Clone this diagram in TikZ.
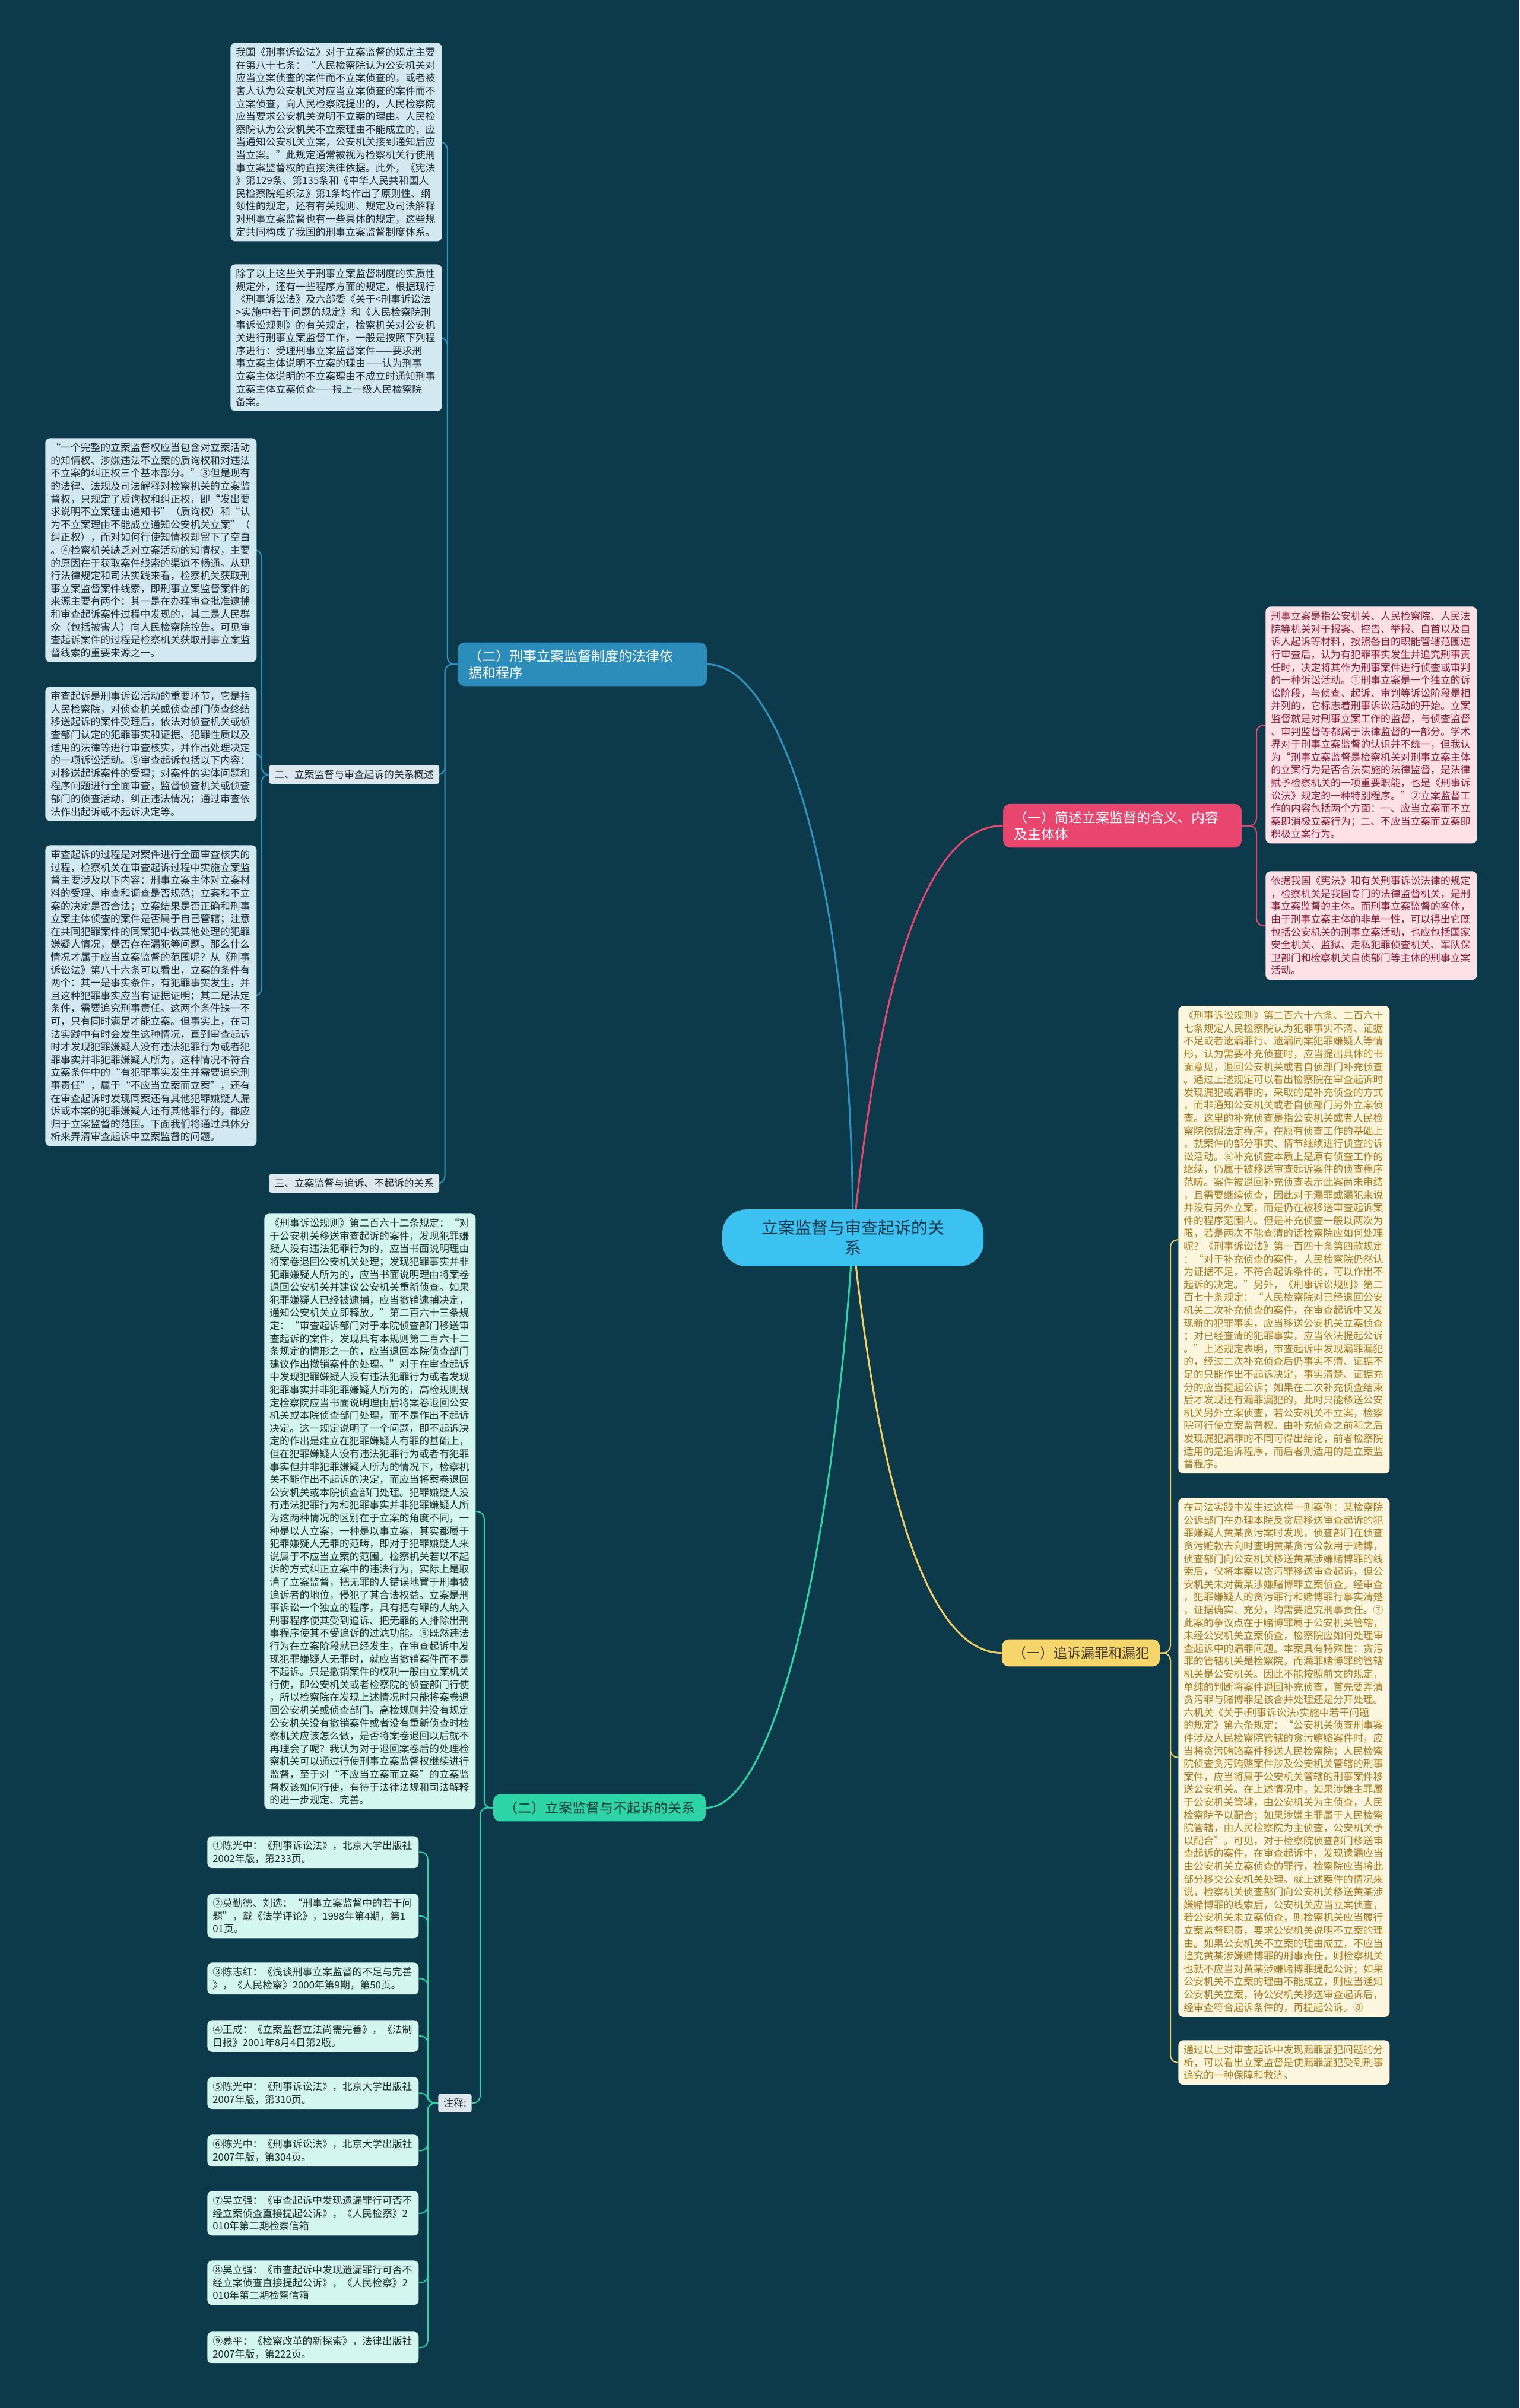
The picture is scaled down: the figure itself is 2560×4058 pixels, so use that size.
\documentclass[tikz,border=0pt]{standalone}
\usepackage{fontspec}
\setmainfont{Noto Sans CJK SC}
\usepackage{xcolor}
\usetikzlibrary{positioning}

\definecolor{bgcol}{HTML}{0D3A4A}
\definecolor{rootfill}{HTML}{3CC2F0}
\definecolor{roottext}{HTML}{12364A}
\definecolor{bluebr}{HTML}{2C8DBA}
\definecolor{bluefill}{HTML}{D3E9F1}
\definecolor{bluetext}{HTML}{1E2B33}
\definecolor{bluelinecol}{HTML}{2F93C0}
\definecolor{pinkbr}{HTML}{E8466F}
\definecolor{pinkfill}{HTML}{FDE1E7}
\definecolor{pinktext}{HTML}{8A1E3F}
\definecolor{yelbr}{HTML}{F6D56B}
\definecolor{yelbrtext}{HTML}{3A3322}
\definecolor{yelfill}{HTML}{FDF6DF}
\definecolor{yeltext}{HTML}{A47C1E}
\definecolor{yellinecol}{HTML}{F1CF62}
\definecolor{grnbr}{HTML}{2DD4A6}
\definecolor{grnbrtext}{HTML}{153A3A}
\definecolor{grnfill}{HTML}{D3F6EE}
\definecolor{grntext}{HTML}{1E2E2E}
\definecolor{lblfill}{HTML}{DCE8EE}

\pgfdeclarelayer{bgl}
\pgfdeclarelayer{lines}
\pgfsetlayers{bgl,lines,main}

\begin{document}
\begin{tikzpicture}[x=0.5pt, y=-0.5pt,
  txt/.style={anchor=north west, rounded corners=4pt, text width=169pt, inner xsep=4.5pt, inner ysep=4pt, align=left, font=\fontsize{8.4}{10.8}\selectfont},
  bluetxt/.style={txt, fill=bluefill, text=bluetext},
  pinktxt/.style={txt, fill=pinkfill, text=pinktext},
  yeltxt/.style={txt, fill=yelfill, text=yeltext},
  grntxt/.style={txt, fill=grnfill, text=grntext},
  lbl/.style={anchor=north west, fill=lblfill, text=bluetext, rounded corners=2pt, inner xsep=4.5pt, inner ysep=4pt, font=\fontsize{8.4}{10.8}\selectfont},
  branch/.style={rounded corners=6pt, inner xsep=9pt, inner ysep=6pt, align=left, font=\fontsize{11.5}{14}\selectfont},
  root/.style={fill=rootfill, text=roottext, rounded corners=20pt, text width=156pt, inner xsep=32pt, inner ysep=9pt, align=center, font=\fontsize{14}{17}\selectfont},
  mainline/.style={line width=1.5pt},
  bracket/.style={line width=1pt, rounded corners=6pt}
]
\begin{pgfonlayer}{bgl}
\fill[bgcol] (0,0) rectangle (2560,4058);
\end{pgfonlayer}

% centre
\node[root] (root) at (1437,2086) {立案监督与审查起诉的关\\系};

% main branches
\node[branch, fill=bluebr, text=white, text width=192pt] (lawbr) at (981,1119.5) {（二）刑事立案监督制度的法律依\\据和程序};
\node[branch, fill=pinkbr, text=white, text width=183pt] (defbr) at (1891,1391.5) {（一）简述立案监督的含义、内容\\及主体体};
\node[branch, fill=yelbr, text=yelbrtext] (pursbr) at (1821,2785.5) {（一）追诉漏罪和漏犯};
\node[branch, fill=grnbr, text=grnbrtext] (nonbr) at (1010,3046.5) {（二）立案监督与不起诉的关系};

% legal basis and procedure
\node[bluetxt] (tlA) at (388,72) {我国《刑事诉讼法》对于立案监督的规定主要\\在第八十七条：“人民检察院认为公安机关对\\应当立案侦查的案件而不立案侦查的，或者被\\害人认为公安机关对应当立案侦查的案件而不\\立案侦查，向人民检察院提出的，人民检察院\\应当要求公安机关说明不立案的理由。人民检\\察院认为公安机关不立案理由不能成立的，应\\当通知公安机关立案，公安机关接到通知后应\\当立案。”此规定通常被视为检察机关行使刑\\事立案监督权的直接法律依据。此外，《宪法\\》第129条、第135条和《中华人民共和国人\\民检察院组织法》第1条均作出了原则性、纲\\领性的规定，还有有关规则、规定及司法解释\\对刑事立案监督也有一些具体的规定，这些规\\定共同构成了我国的刑事立案监督制度体系。};
\node[bluetxt] (tlB) at (388,445) {除了以上这些关于刑事立案监督制度的实质性\\规定外，还有一些程序方面的规定。根据现行\\《刑事诉讼法》及六部委《关于<刑事诉讼法\\>实施中若干问题的规定》和《人民检察院刑\\事诉讼规则》的有关规定，检察机关对公安机\\关进行刑事立案监督工作，一般是按照下列程\\序进行：受理刑事立案监督案件——要求刑\\事立案主体说明不立案的理由——认为刑事\\立案主体说明的不立案理由不成立时通知刑事\\立案主体立案侦查——报上一级人民检察院\\备案。};
\node[lbl] (rel2) at (453,1289) {二、立案监督与审查起诉的关系概述};
\node[lbl] (rel3) at (453,1978) {三、立案监督与追诉、不起诉的关系};

\node[bluetxt] (lfA) at (76,738) {“一个完整的立案监督权应当包含对立案活动\\的知情权、涉嫌违法不立案的质询权和对违法\\不立案的纠正权三个基本部分。”③但是现有\\的法律、法规及司法解释对检察机关的立案监\\督权，只规定了质询权和纠正权，即“发出要\\求说明不立案理由通知书”（质询权）和“认\\为不立案理由不能成立通知公安机关立案”（\\纠正权），而对如何行使知情权却留下了空白\\。④检察机关缺乏对立案活动的知情权，主要\\的原因在于获取案件线索的渠道不畅通。从现\\行法律规定和司法实践来看，检察机关获取刑\\事立案监督案件线索，即刑事立案监督案件的\\来源主要有两个：其一是在办理审查批准逮捕\\和审查起诉案件过程中发现的，其二是人民群\\众（包括被害人）向人民检察院控告。可见审\\查起诉案件的过程是检察机关获取刑事立案监\\督线索的重要来源之一。};
\node[bluetxt] (lfB) at (76,1157) {审查起诉是刑事诉讼活动的重要环节，它是指\\人民检察院，对侦查机关或侦查部门侦查终结\\移送起诉的案件受理后，依法对侦查机关或侦\\查部门认定的犯罪事实和证据、犯罪性质以及\\适用的法律等进行审查核实，并作出处理决定\\的一项诉讼活动。⑤审查起诉包括以下内容：\\对移送起诉案件的受理；对案件的实体问题和\\程序问题进行全面审查，监督侦查机关或侦查\\部门的侦查活动，纠正违法情况；通过审查依\\法作出起诉或不起诉决定等。};
\node[bluetxt] (lfC) at (76,1424) {审查起诉的过程是对案件进行全面审查核实的\\过程，检察机关在审查起诉过程中实施立案监\\督主要涉及以下内容：刑事立案主体对立案材\\料的受理、审查和调查是否规范；立案和不立\\案的决定是否合法；立案结果是否正确和刑事\\立案主体侦查的案件是否属于自己管辖；注意\\在共同犯罪案件的同案犯中做其他处理的犯罪\\嫌疑人情况，是否存在漏犯等问题。那么什么\\情况才属于应当立案监督的范围呢？从《刑事\\诉讼法》第八十六条可以看出，立案的条件有\\两个：其一是事实条件，有犯罪事实发生，并\\且这种犯罪事实应当有证据证明；其二是法定\\条件，需要追究刑事责任。这两个条件缺一不\\可，只有同时满足才能立案。但事实上，在司\\法实践中有时会发生这种情况，直到审查起诉\\时才发现犯罪嫌疑人没有违法犯罪行为或者犯\\罪事实并非犯罪嫌疑人所为，这种情况不符合\\立案条件中的“有犯罪事实发生并需要追究刑\\事责任”，属于“不应当立案而立案”，还有\\在审查起诉时发现同案还有其他犯罪嫌疑人漏\\诉或本案的犯罪嫌疑人还有其他罪行的，都应\\归于立案监督的范围。下面我们将通过具体分\\析来弄清审查起诉中立案监督的问题。};

% meaning, content and subject
\node[pinktxt] (pkA) at (2132,1022) {刑事立案是指公安机关、人民检察院、人民法\\院等机关对于报案、控告、举报、自首以及自\\诉人起诉等材料，按照各自的职能管辖范围进\\行审查后，认为有犯罪事实发生并追究刑事责\\任时，决定将其作为刑事案件进行侦查或审判\\的一种诉讼活动。①刑事立案是一个独立的诉\\讼阶段，与侦查、起诉、审判等诉讼阶段是相\\并列的，它标志着刑事诉讼活动的开始。立案\\监督就是对刑事立案工作的监督，与侦查监督\\、审判监督等都属于法律监督的一部分。学术\\界对于刑事立案监督的认识并不统一，但我认\\为“刑事立案监督是检察机关对刑事立案主体\\的立案行为是否合法实施的法律监督，是法律\\赋予检察机关的一项重要职能，也是《刑事诉\\讼法》规定的一种特别程序。”②立案监督工\\作的内容包括两个方面：一、应当立案而不立\\案即消极立案行为；二、不应当立案而立案即\\积极立案行为。};
\node[pinktxt] (pkB) at (2132,1468) {依据我国《宪法》和有关刑事诉讼法律的规定\\，检察机关是我国专门的法律监督机关，是刑\\事立案监督的主体。而刑事立案监督的客体，\\由于刑事立案主体的非单一性，可以得出它既\\包括公安机关的刑事立案活动，也应包括国家\\安全机关、监狱、走私犯罪侦查机关、军队保\\卫部门和检察机关自侦部门等主体的刑事立案\\活动。};

% pursuing omitted crimes
\node[yeltxt] (ylA) at (1985,1695) {《刑事诉讼规则》第二百六十六条、二百六十\\七条规定人民检察院认为犯罪事实不清、证据\\不足或者遗漏罪行、遗漏同案犯罪嫌疑人等情\\形，认为需要补充侦查时，应当提出具体的书\\面意见，退回公安机关或者自侦部门补充侦查\\。通过上述规定可以看出检察院在审查起诉时\\发现漏犯或漏罪的，采取的是补充侦查的方式\\，而非通知公安机关或者自侦部门另外立案侦\\查。这里的补充侦查是指公安机关或者人民检\\察院依照法定程序，在原有侦查工作的基础上\\，就案件的部分事实、情节继续进行侦查的诉\\讼活动。⑥补充侦查本质上是原有侦查工作的\\继续，仍属于被移送审查起诉案件的侦查程序\\范畴。案件被退回补充侦查表示此案尚未审结\\，且需要继续侦查，因此对于漏罪或漏犯来说\\并没有另外立案，而是仍在被移送审查起诉案\\件的程序范围内。但是补充侦查一般以两次为\\限，若是两次不能查清的话检察院应如何处理\\呢？《刑事诉讼法》第一百四十条第四款规定\\：“对于补充侦查的案件，人民检察院仍然认\\为证据不足，不符合起诉条件的，可以作出不\\起诉的决定。”另外，《刑事诉讼规则》第二\\百七十条规定：“人民检察院对已经退回公安\\机关二次补充侦查的案件，在审查起诉中又发\\现新的犯罪事实，应当移送公安机关立案侦查\\；对已经查清的犯罪事实，应当依法提起公诉\\。”上述规定表明，审查起诉中发现漏罪漏犯\\的，经过二次补充侦查后仍事实不清、证据不\\足的只能作出不起诉决定，事实清楚、证据充\\分的应当提起公诉；如果在二次补充侦查结束\\后才发现还有漏罪漏犯的，此时只能移送公安\\机关另外立案侦查，若公安机关不立案，检察\\院可行使立案监督权。由补充侦查之前和之后\\发现漏犯漏罪的不同可得出结论，前者检察院\\适用的是追诉程序，而后者则适用的是立案监\\督程序。};
\node[yeltxt] (ylB) at (1985,2524) {在司法实践中发生过这样一则案例：某检察院\\公诉部门在办理本院反贪局移送审查起诉的犯\\罪嫌疑人黄某贪污案时发现，侦查部门在侦查\\贪污赃款去向时查明黄某贪污公款用于赌博，\\侦查部门向公安机关移送黄某涉嫌赌博罪的线\\索后，仅将本案以贪污罪移送审查起诉，但公\\安机关未对黄某涉嫌赌博罪立案侦查。经审查\\，犯罪嫌疑人的贪污罪行和赌博罪行事实清楚\\，证据确实、充分，均需要追究刑事责任。⑦\\此案的争议点在于赌博罪属于公安机关管辖，\\未经公安机关立案侦查，检察院应如何处理审\\查起诉中的漏罪问题。本案具有特殊性：贪污\\罪的管辖机关是检察院，而漏罪赌博罪的管辖\\机关是公安机关。因此不能按照前文的规定，\\单纯的判断将案件退回补充侦查，首先要弄清\\贪污罪与赌博罪是该合并处理还是分开处理。\\六机关《关于‹刑事诉讼法›实施中若干问题\\的规定》第六条规定：“公安机关侦查刑事案\\件涉及人民检察院管辖的贪污贿赂案件时，应\\当将贪污贿赂案件移送人民检察院；人民检察\\院侦查贪污贿赂案件涉及公安机关管辖的刑事\\案件，应当将属于公安机关管辖的刑事案件移\\送公安机关。在上述情况中，如果涉嫌主罪属\\于公安机关管辖，由公安机关为主侦查，人民\\检察院予以配合；如果涉嫌主罪属于人民检察\\院管辖，由人民检察院为主侦查，公安机关予\\以配合”。可见，对于检察院侦查部门移送审\\查起诉的案件，在审查起诉中，发现遗漏应当\\由公安机关立案侦查的罪行，检察院应当将此\\部分移交公安机关处理。就上述案件的情况来\\说，检察机关侦查部门向公安机关移送黄某涉\\嫌赌博罪的线索后，公安机关应当立案侦查，\\若公安机关未立案侦查，则检察机关应当履行\\立案监督职责，要求公安机关说明不立案的理\\由。如果公安机关不立案的理由成立，不应当\\追究黄某涉嫌赌博罪的刑事责任，则检察机关\\也就不应当对黄某涉嫌赌博罪提起公诉；如果\\公安机关不立案的理由不能成立，则应当通知\\公安机关立案，待公安机关移送审查起诉后，\\经审查符合起诉条件的，再提起公诉。⑧};
\node[yeltxt] (ylC) at (1985,3438) {通过以上对审查起诉中发现漏罪漏犯问题的分\\析，可以看出立案监督是使漏罪漏犯受到刑事\\追究的一种保障和救济。};

% non-prosecution
\node[grntxt] (gnA) at (445,2045) {《刑事诉讼规则》第二百六十二条规定：“对\\于公安机关移送审查起诉的案件，发现犯罪嫌\\疑人没有违法犯罪行为的，应当书面说明理由\\将案卷退回公安机关处理；发现犯罪事实并非\\犯罪嫌疑人所为的，应当书面说明理由将案卷\\退回公安机关并建议公安机关重新侦查。如果\\犯罪嫌疑人已经被逮捕，应当撤销逮捕决定，\\通知公安机关立即释放。”第二百六十三条规\\定：“审查起诉部门对于本院侦查部门移送审\\查起诉的案件，发现具有本规则第二百六十二\\条规定的情形之一的，应当退回本院侦查部门\\建议作出撤销案件的处理。”对于在审查起诉\\中发现犯罪嫌疑人没有违法犯罪行为或者发现\\犯罪事实并非犯罪嫌疑人所为的，高检规则规\\定检察院应当书面说明理由后将案卷退回公安\\机关或本院侦查部门处理，而不是作出不起诉\\决定。这一规定说明了一个问题，即不起诉决\\定的作出是建立在犯罪嫌疑人有罪的基础上，\\但在犯罪嫌疑人没有违法犯罪行为或者有犯罪\\事实但并非犯罪嫌疑人所为的情况下，检察机\\关不能作出不起诉的决定，而应当将案卷退回\\公安机关或本院侦查部门处理。犯罪嫌疑人没\\有违法犯罪行为和犯罪事实并非犯罪嫌疑人所\\为这两种情况的区别在于立案的角度不同，一\\种是以人立案，一种是以事立案，其实都属于\\犯罪嫌疑人无罪的范畴，即对于犯罪嫌疑人来\\说属于不应当立案的范围。检察机关若以不起\\诉的方式纠正立案中的违法行为，实际上是取\\消了立案监督，把无罪的人错误地置于刑事被\\追诉者的地位，侵犯了其合法权益。立案是刑\\事诉讼一个独立的程序，具有把有罪的人纳入\\刑事程序使其受到追诉、把无罪的人排除出刑\\事程序使其不受追诉的过滤功能。⑨既然违法\\行为在立案阶段就已经发生，在审查起诉中发\\现犯罪嫌疑人无罪时，就应当撤销案件而不是\\不起诉。只是撤销案件的权利一般由立案机关\\行使，即公安机关或者检察院的侦查部门行使\\，所以检察院在发现上述情况时只能将案卷退\\回公安机关或侦查部门。高检规则并没有规定\\公安机关没有撤销案件或者没有重新侦查时检\\察机关应该怎么做，是否将案卷退回以后就不\\再理会了呢？我认为对于退回案卷后的处理检\\察机关可以通过行使刑事立案监督权继续进行\\监督，至于对“不应当立案而立案”的立案监\\督权该如何行使，有待于法律法规和司法解释\\的进一步规定、完善。};
\node[lbl] (notelbl) at (738,3528) {注释:};

% notes
\node[grntxt] (nt1) at (349,3094) {①陈光中：《刑事诉讼法》，北京大学出版社\\2002年版，第233页。};
\node[grntxt] (nt2) at (349,3191) {②莫勤德、刘选：“刑事立案监督中的若干问\\题”，载《法学评论》，1998年第4期，第1\\01页。};
\node[grntxt] (nt3) at (349,3307) {③陈志红：《浅谈刑事立案监督的不足与完善\\》，《人民检察》2000年第9期，第50页。};
\node[grntxt] (nt4) at (349,3404) {④王成：《立案监督立法尚需完善》，《法制\\日报》2001年8月4日第2版。};
\node[grntxt] (nt5) at (349,3500) {⑤陈光中：《刑事诉讼法》，北京大学出版社\\2007年版，第310页。};
\node[grntxt] (nt6) at (349,3597) {⑥陈光中：《刑事诉讼法》，北京大学出版社\\2007年版，第304页。};
\node[grntxt] (nt7) at (349,3692) {⑦吴立强：《审查起诉中发现遗漏罪行可否不\\经立案侦查直接提起公诉》，《人民检察》2\\010年第二期检察信箱};
\node[grntxt] (nt8) at (349,3809) {⑧吴立强：《审查起诉中发现遗漏罪行可否不\\经立案侦查直接提起公诉》，《人民检察》2\\010年第二期检察信箱};
\node[grntxt] (nt9) at (349,3929) {⑨慕平：《检察改革的新探索》，法律出版社\\2007年版，第222页。};

% connectors
\begin{pgfonlayer}{lines}
\draw[mainline, bluelinecol] (root.center) .. controls (1437,1500) and (1320,1119.5) .. (lawbr.east);
\draw[mainline, pinkbr] (root.center) .. controls (1480,1650) and (1560,1391.5) .. (defbr.west);
\draw[mainline, yellinecol] (root.center) .. controls (1480,2500) and (1560,2785.5) .. (pursbr.west);
\draw[mainline, grnbr] (root.center) .. controls (1400,2650) and (1300,3046.5) .. (nonbr.east);

\foreach \c in {tlA,tlB,rel2,rel3}
  \draw[bracket, bluelinecol] (lawbr.west) -| ([xshift=4.5pt]\c.east) -- (\c.east);
\foreach \c in {lfA,lfB,lfC}
  \draw[bracket, bluelinecol] (rel2.west) -| ([xshift=4pt]\c.east) -- (\c.east);
\foreach \c in {pkA,pkB}
  \draw[bracket, pinkbr] (defbr.east) -| ([xshift=-7.5pt]\c.west) -- (\c.west);
\foreach \c in {ylA,ylB,ylC}
  \draw[bracket, yellinecol] (pursbr.east) -| ([xshift=-6.5pt]\c.west) -- (\c.west);
\foreach \c in {gnA,notelbl}
  \draw[bracket, grnbr] (nonbr.west) -| ([xshift=7pt]\c.east) -- (\c.east);
\foreach \c in {nt1,nt2,nt3,nt4,nt5,nt6,nt7,nt8,nt9}
  \draw[bracket, grnbr] (notelbl.west) -| ([xshift=7.5pt]\c.east) -- (\c.east);
\end{pgfonlayer}
\end{tikzpicture}
\end{document}
